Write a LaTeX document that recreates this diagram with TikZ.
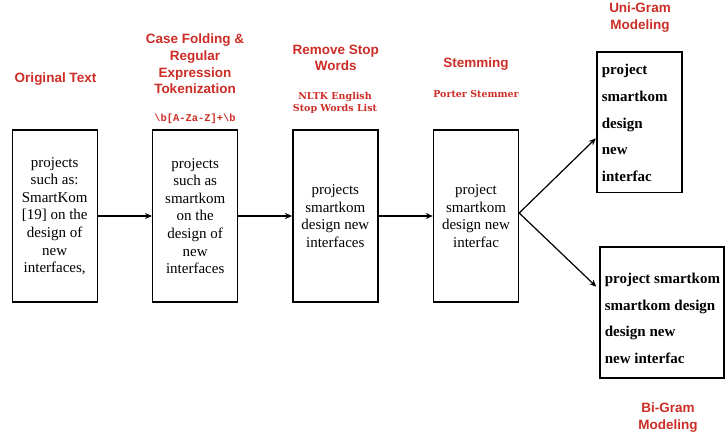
\documentclass[tikz,border=0pt]{standalone}
\usepackage{fontspec}
\setmainfont{Liberation Serif}
\newfontfamily\headfont{Liberation Sans}
\newfontfamily\slabfont{DejaVu Serif}
\newfontfamily\monofont{Liberation Mono}
\usetikzlibrary{arrows.meta}
\definecolor{hdred}{RGB}{204,45,38}
\tikzset{
  stagebox/.style={draw=black, line width=1.4pt, minimum width=85pt, minimum height=172pt, inner sep=0pt, align=center, font=\fontsize{15}{17.6}\selectfont},
  gramtext/.style={anchor=west, align=left, inner sep=0pt, font=\fontsize{15}{26.8}\selectfont\bfseries},
  gramframe/.style={draw=black, line width=1.4pt, inner sep=0pt},
  heading/.style={text=hdred, align=center, inner sep=0pt, font=\headfont\fontsize{13.5}{16.7}\selectfont\bfseries},
  subhead/.style={text=hdred, align=center, inner sep=0pt, font=\slabfont\fontsize{9.5}{12.6}\selectfont\bfseries},
  flow/.style={draw=black, line width=1.2pt, -{Stealth[length=7pt,width=6pt]}}
}
\begin{document}
\begin{tikzpicture}[x=1pt,y=-1pt]
\path[use as bounding box] (0,0) rectangle (726,436);

% stage boxes
\node[stagebox] (b1) at (54.7,216) {projects\\such as:\\SmartKom\\{[19]} on the\\design of\\new\\interfaces,};
\node[stagebox] (b2) at (195.2,216) {projects\\such as\\smartkom\\on the\\design of\\new\\interfaces};
\node[stagebox] (b3) at (335.3,216) {projects\\smartkom\\design new\\interfaces};
\node[stagebox] (b4) at (476,216) {project\\smartkom\\design new\\interfac};

% n-gram boxes
\node[gramframe, minimum width=85pt, minimum height=140.7pt] (b5) at (639.5,122.4) {};
\node[gramtext] (t5) at (601.7,123) {project\\smartkom\\design\\new\\interfac};
\node[gramframe, minimum width=124pt, minimum height=131pt] (b6) at (662,312.3) {};
\node[gramtext] (t6) at (604.7,318.3) {project smartkom\\smartkom design\\design new\\new interfac};

% headings
\node[heading] (h1) at (55.5,79) {Original Text};
\node[heading] (h2) at (195,64) {Case Folding \&\\Regular\\Expression\\Tokenization};
\node[subhead, font=\monofont\fontsize{10.4}{12}\selectfont\bfseries] (s2) at (195,119.3) {\textbackslash b[A-Za-Z]+\textbackslash b};
\node[heading] (h3) at (335.7,58) {Remove Stop\\Words};
\node[subhead] (s3) at (335,103) {NLTK English\\Stop Words List};
\node[heading] (h4) at (476,64.3) {Stemming};
\node[subhead] (s4) at (476,94.3) {Porter Stemmer};
\node[heading] (h5) at (640,17.6) {Uni-Gram\\Modeling};
\node[heading] (h6) at (668,417.2) {Bi-Gram\\Modeling};

% connectors
\draw[flow] (b1.east) -- (b2.west);
\draw[flow] (b2.east) -- (b3.west);
\draw[flow] (b3.east) -- (b4.west);
\coordinate (fork) at ([yshift=3pt]b4.east);
\draw[flow] (fork) -- ([xshift=-0.5pt,yshift=-16pt]b5.west);
\draw[flow] (fork) -- ([xshift=-3pt,yshift=25.6pt]b6.west);
\end{tikzpicture}
\end{document}
